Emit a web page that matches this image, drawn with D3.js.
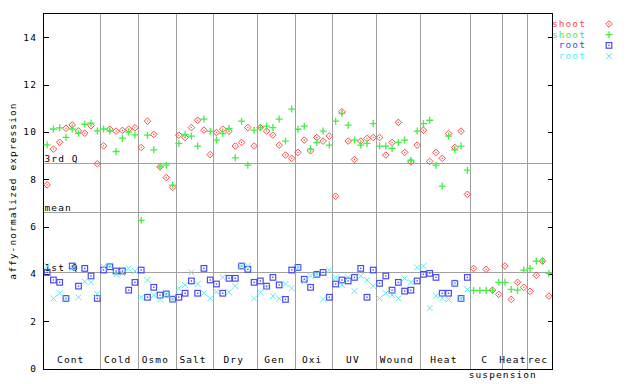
<!DOCTYPE html>
<html>
<head>
<meta charset="utf-8">
<script src="https://cdn.jsdelivr.net/npm/d3@7/dist/d3.min.js"></script>
<style>
html,body{margin:0;padding:0;background:#fff;}
svg text{font-family:"DejaVu Sans Mono",monospace;font-size:9.5px;letter-spacing:1.1px;}
</style>
</head>
<body>
<svg id="chart" width="640" height="384"></svg>
<script>
// ---- data ----
const groups = ["Cont","Cold","Osmo","Salt","Dry","Gen","Oxi","UV","Wound","Heat","C","Heat","rec"];
const groupSizes = [9,6,6,6,7,6,6,7,7,8,5,4,4];
const groupSubLabels = ["","","","","","","","","","","suspension","",""];
const seriesNames = ["shoot","shoot","root","root"];
const yTicks = [0,2,4,6,8,10,12,14];
const refNames = ["3rd Q","mean","1st Q"];
const refValues = [8.67, 6.60, 4.06];

const shootA = [7.76,9.27,9.56,10.15,10.29,10.04,9.94,10.26,8.65,
  9.41,10.11,10.03,10.06,10.11,10.17,
  9.34,10.45,9.89,8.52,8.07,7.65,
  9.86,9.76,10.18,10.49,10.07,9.04,
  9.97,10.11,10.03,9.40,9.55,10.18,9.40,
  10.18,10.03,9.86,9.44,9.02,8.88,
  9.13,9.65,9.20,9.76,9.61,9.82,
  7.28,10.85,9.61,8.83,9.61,9.72,9.76,
  9.76,9.02,9.55,10.40,9.13,8.73,9.44,
  10.07,8.75,9.13,8.88,9.93,9.34,10.03,7.36,
  4.23,null,4.19,3.31,3.13,
  4.33,2.92,3.64,3.43,
  3.26,3.94,4.54,3.06];
const shootB = [9.45,10.12,10.17,9.77,10.12,9.94,10.32,10.37,10.04,
  10.12,10.04,9.17,9.73,9.99,9.87,
  6.26,9.86,9.24,8.52,8.59,7.75,
  9.51,9.89,9.82,9.40,10.54,10.02,
  9.65,9.93,10.14,8.90,10.45,8.59,10.07,
  10.18,10.24,10.18,10.54,9.61,10.96,
  10.11,10.24,9.27,9.55,10.03,9.44,
  10.45,10.78,10.28,9.65,9.44,9.51,10.35,
  9.40,9.40,9.30,9.55,9.65,8.80,10.03,
  10.35,10.49,8.59,7.71,9.82,9.24,9.40,8.38,
  3.30,3.30,3.30,3.30,3.64,
  3.64,3.34,3.31,4.16,
  4.23,4.54,4.54,4.02];
const rootA = [4.06,3.74,3.64,2.96,4.33,3.48,4.23,3.91,2.96,
  4.16,4.30,4.12,4.12,3.31,3.64,
  4.16,3.01,3.43,3.10,3.15,2.93,
  3.01,3.18,3.70,3.18,4.23,3.74,
  3.57,3.18,3.81,3.81,4.33,4.19,3.64,
  3.70,3.48,3.85,3.53,2.92,4.16,
  4.27,3.77,3.43,3.98,4.06,3.01,
  3.57,3.74,3.70,3.85,4.23,3.01,4.16,
  3.60,3.91,3.31,3.64,3.27,3.31,3.70,
  3.98,4.02,3.85,3.18,3.18,3.60,2.96,3.85,
  null,null,null,null,null,
  null,null,null,null,
  null,null,null,null];
const rootB = [4.33,2.96,3.18,2.96,4.23,3.01,3.67,3.64,3.15,
  4.30,4.35,3.98,4.02,4.23,4.12,
  3.01,3.74,3.10,2.92,3.12,2.93,
  3.39,3.53,4.06,3.57,3.18,2.96,
  3.24,3.85,3.22,3.48,4.33,4.33,2.96,
  3.22,3.43,3.06,2.96,3.57,3.39,
  4.27,3.67,3.91,3.98,2.92,4.16,
  3.85,3.53,3.85,3.27,3.91,3.74,3.48,
  2.96,3.18,3.10,2.96,3.81,3.64,4.27,
  4.33,2.55,3.07,2.96,2.92,3.60,2.96,3.34,
  null,null,null,null,null,
  null,null,null,null,
  null,null,null,null];

// ---- layout ----
const svg = d3.select("#chart");
const nSamples = d3.sum(groupSizes);
const x = d3.scaleLinear().domain([0, nSamples]).range([44, 552]);
const y = d3.scaleLinear().domain([0, 15]).range([368.5, 13.5]);
const L = 44, R = 552, T = 13.5, B = 368.5;
const gray = "#a0a0a0";
const colors = ["#ff4848","#44ee44","#4a4af0","#55eeee"];

// group boundaries
const bounds = [0];
groupSizes.forEach(s => bounds.push(bounds[bounds.length-1] + s));

const grid = svg.append("g").attr("shape-rendering","crispEdges");
bounds.slice(1, -1).forEach(b => {
  const px = Math.round(x(b)) + 0.5;
  grid.append("line").attr("x1",px).attr("x2",px).attr("y1",T).attr("y2",B)
    .attr("stroke",gray).attr("stroke-width",1);
});
refValues.forEach((v,i) => {
  const py = Math.round(y(v)) + 0.5;
  grid.append("line").attr("x1",L).attr("x2",R).attr("y1",py).attr("y2",py)
    .attr("stroke",gray).attr("stroke-width",1);
  svg.append("text").attr("x",L+0.5).attr("y",py-1.5).attr("fill","#000").text(refNames[i]);
});

// frame
svg.append("rect").attr("x",L-0.5).attr("y",T-0.5).attr("width",R-L+1).attr("height",B-T+1)
  .attr("fill","none").attr("stroke","#000").attr("stroke-width",1).attr("shape-rendering","crispEdges");

// y axis ticks (inward on both sides)
const axL = d3.axisRight(y).tickValues(yTicks).tickSize(5).tickFormat("");
svg.append("g").attr("transform",`translate(${L-0.5},0)`).call(axL)
  .call(g => g.select(".domain").remove())
  .call(g => g.selectAll("line").attr("shape-rendering","crispEdges"));
const axR = d3.axisLeft(y).tickValues(yTicks).tickSize(5).tickFormat("");
svg.append("g").attr("transform",`translate(${R+0.5},0)`).call(axR)
  .call(g => g.select(".domain").remove())
  .call(g => g.selectAll("line").attr("shape-rendering","crispEdges"));
yTicks.forEach(t => {
  svg.append("text").attr("x",37).attr("y",y(t)+3.5).attr("text-anchor","end").text(t);
});
svg.append("text").attr("transform","translate(15.5,191) rotate(-90)")
  .attr("text-anchor","middle").text("affy-normalized expression");

// group labels
groups.forEach((g,i) => {
  const cx = (x(bounds[i]) + x(bounds[i+1]))/2 - 1.5;
  svg.append("text").attr("x",cx).attr("y",363).attr("text-anchor","middle").text(g);
  if (groupSubLabels[i]) {
    svg.append("text").attr("x",x(bounds[i+1])+1).attr("y",377.5).attr("text-anchor","middle").text(groupSubLabels[i]);
  }
});

// markers
function diamond(g, cx, cy, c){
  g.append("path").attr("d",`M${cx},${cy-3.3}L${cx+3.3},${cy}L${cx},${cy+3.3}L${cx-3.3},${cy}Z`)
    .attr("fill","none").attr("stroke",c).attr("stroke-width",1);
  g.append("rect").attr("x",cx-0.6).attr("y",cy-0.6).attr("width",1.2).attr("height",1.2).attr("fill",c);
}
function plus(g, cx, cy, c){
  g.append("path").attr("d",`M${cx-3.5},${cy}H${cx+3.5}M${cx},${cy-3.5}V${cy+3.5}`)
    .attr("stroke",c).attr("stroke-width",1.3).attr("fill","none");
}
function square(g, cx, cy, c){
  g.append("rect").attr("x",cx-2.8).attr("y",cy-2.8).attr("width",5.6).attr("height",5.6)
    .attr("fill","none").attr("stroke",c).attr("stroke-width",1.2);
  g.append("rect").attr("x",cx-0.7).attr("y",cy-0.7).attr("width",1.4).attr("height",1.4).attr("fill",c);
}
function cross(g, cx, cy, c){
  g.append("path").attr("d",`M${cx-3},${cy-3}L${cx+3},${cy+3}M${cx-3},${cy+3}L${cx+3},${cy-3}`)
    .attr("stroke",c).attr("stroke-width",1).attr("fill","none");
}
const drawers = [diamond, plus, square, cross];
const allSeries = [shootA, shootB, rootA, rootB];
const mk = svg.append("g");
allSeries.forEach((s,si) => {
  s.forEach((v,i) => {
    if (v === null) return;
    drawers[si](mk, x(i+0.5), y(v), colors[si]);
  });
});

// legend
seriesNames.forEach((n,i) => {
  const by = 27 + i*10.7;
  svg.append("text").attr("x",586).attr("y",by).attr("text-anchor","end").attr("fill",colors[i]).text(n);
  drawers[i](svg, 609, by-3, colors[i]);
});
</script>
</body>
</html>
